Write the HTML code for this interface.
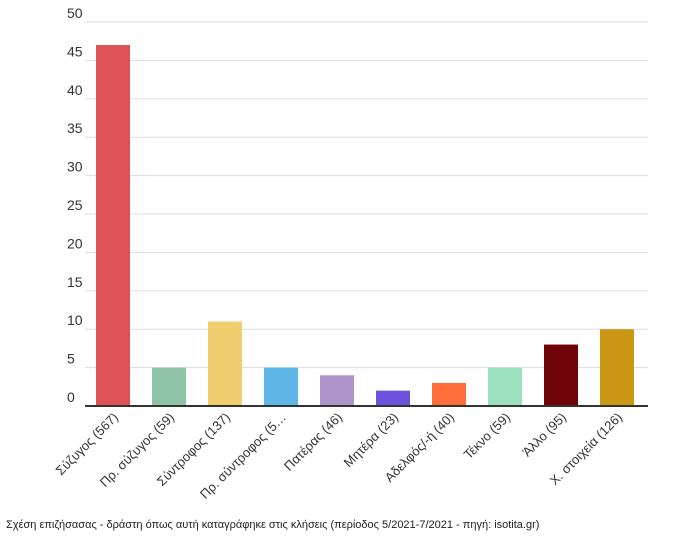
<!DOCTYPE html>
<html><head><meta charset="utf-8"><style>
body{margin:0;background:#fff;font-family:"Liberation Sans","DejaVu Sans",sans-serif;}
svg text{font-family:"Liberation Sans","DejaVu Sans",sans-serif;}
</style></head><body>
<svg id="chart" width="694" height="549" viewBox="0 0 694 549" xmlns="http://www.w3.org/2000/svg">
<g id="grid"></g>
<g id="bars"></g>
<g id="xlabels"></g>
<line x1="85" x2="648" y1="406" y2="406" stroke="#333" stroke-width="2"/>
<text x="6" y="528" font-size="11" fill="#222">Σχέση επιζήσασας - δράστη όπως αυτή καταγράφηκε στις κλήσεις (περίοδος 5/2021-7/2021 - πηγή: isotita.gr)</text>
</svg>
<script>
const categories=["Σύζυγος (567)","Πρ. σύζυγος (59)","Σύντροφος (137)","Πρ. σύντροφος (5…","Πατέρας (46)","Μητέρα (23)","Αδελφός/-ή (40)","Τέκνο (59)","Άλλο (95)","Χ. στοιχεία (126)"];
const values=[47,5,11,5,4,2,3,5,8,10];
const colors=["#DD5157","#8EC3A7","#F0CD6E","#5DB6E6","#AE94CB","#6C51DB","#FF6E3A","#9AE0BC","#710409","#C99714"];
const yTicks=[0,5,10,15,20,25,30,35,40,45,50];
const NS="http://www.w3.org/2000/svg";
const x0=85,x1=648,yBase=406,yTop=22,yMax=50;
const y=v=>yBase-(v/yMax)*(yBase-yTop);
const band=(x1-x0-3)/categories.length;
const bw=34;
const grid=document.getElementById('grid');
yTicks.forEach(t=>{
  const l=document.createElementNS(NS,'line');
  
  
  l.setAttribute('x1',x0);l.setAttribute('x2',x1);l.setAttribute('y1',y(t));l.setAttribute('y2',y(t));
  l.setAttribute('stroke','#ddd');l.setAttribute('stroke-width','1');
  grid.appendChild(l);
  const tx=document.createElementNS(NS,'text');
  
  
  tx.setAttribute('x',67);tx.setAttribute('y',y(t)-4);
  tx.setAttribute('font-size','14');tx.setAttribute('fill','#333');
  tx.textContent=t;grid.appendChild(tx);
});
const bars=document.getElementById('bars'),xl=document.getElementById('xlabels');
categories.forEach((c,i)=>{
  const cx=x0+band*(i+0.5);
  const r=document.createElementNS(NS,'rect');
  
  
  r.setAttribute('x',cx-bw/2);r.setAttribute('width',bw);
  r.setAttribute('y',y(values[i]));r.setAttribute('height',yBase-y(values[i]));
  r.setAttribute('fill',colors[i]);bars.appendChild(r);
  const t=document.createElementNS(NS,'text');
  
  
  t.setAttribute('x',cx+6);t.setAttribute('y',418);
  t.setAttribute('font-size','13');t.setAttribute('fill','#333');
  t.setAttribute('text-anchor','end');
  t.setAttribute('transform','rotate(-45 '+(cx+6)+' 418)');
  t.textContent=c;xl.appendChild(t);
});
</script>
</body></html>
